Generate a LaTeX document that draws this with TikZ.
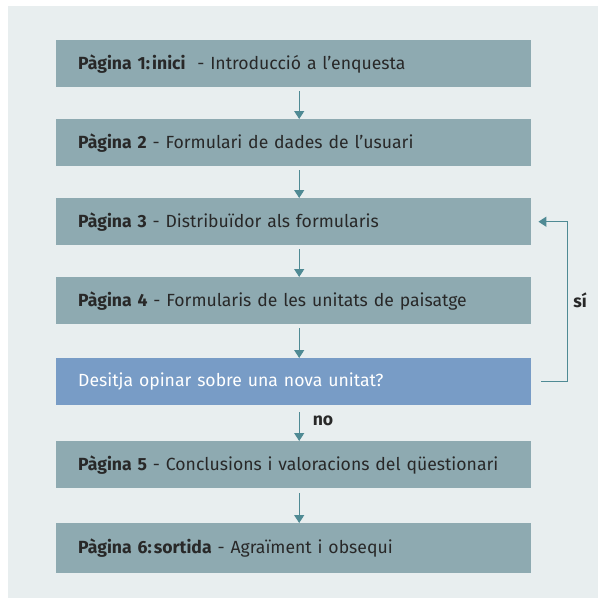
\documentclass[tikz,border=0pt]{standalone}
\usepackage{fontspec}
\setmainfont{Fira Sans}
\usetikzlibrary{arrows.meta}
\definecolor{panelbg}{RGB}{232,238,239}
\definecolor{pagegrey}{RGB}{142,170,177}
\definecolor{askblue}{RGB}{120,156,198}
\definecolor{flowteal}{RGB}{79,138,148}
\definecolor{textdark}{RGB}{40,40,40}
\begin{document}
\begin{tikzpicture}[x=1pt,y=-1pt,
    page/.style={fill=pagegrey,text=textdark,minimum height=47pt,
      text width=431pt,inner xsep=22pt,inner ysep=0pt,align=left,
      anchor=north west,font=\fontsize{17.6}{20}\selectfont},
    ask/.style={page,fill=askblue,text=white},
    flow/.style={draw=flowteal,line width=1.3pt,
      -{Triangle[width=10pt,length=8pt]}},
    answer/.style={text=textdark,font=\fontsize{17.6}{20}\selectfont\bfseries}]
    %% background panel
    \useasboundingbox (0,0) rectangle (598,598);
    \fill[panelbg] (8,6) rectangle (598,598);
    %% pages
    \node[page] (p1) at (56,40) {\textbf{Pàgina 1:\hspace{0.12em}inici}\ \ - Introducció a l’enquesta};
    \node[page] (p2) at (56,119) {\textbf{Pàgina 2} - Formulari de dades de l’usuari};
    \node[page] (p3) at (56,198) {\textbf{Pàgina 3} - Distribuïdor als formularis};
    \node[page] (p4) at (56,277) {\textbf{Pàgina 4} - Formularis de les unitats de paisatge};
    \node[ask] (q) at (56,358) {Desitja opinar sobre una nova unitat?};
    \node[page] (p5) at (56,441) {\textbf{Pàgina 5} - Conclusions i valoracions del qüestionari};
    \node[page,minimum height=50pt] (p6) at (56,523) {\textbf{Pàgina 6:\hspace{0.12em}sortida} - Agraïment i obsequi};
    %% arrows down
    \draw[flow] ([xshift=5.5pt,yshift=-4pt]p1.south) -- ([xshift=5.5pt]p2.north);
    \draw[flow] ([xshift=5.5pt,yshift=-4pt]p2.south) -- ([xshift=5.5pt]p3.north);
    \draw[flow] ([xshift=5.5pt,yshift=-4pt]p3.south) -- ([xshift=5.5pt]p4.north);
    \draw[flow] ([xshift=5.5pt,yshift=-4pt]p4.south) -- ([xshift=5.5pt]q.north);
    \draw[flow] ([xshift=5.5pt,yshift=-7pt]q.south) -- ([xshift=5.5pt]p5.north);
    \draw[flow] ([xshift=5.5pt,yshift=-5pt]p5.south) -- ([xshift=5.5pt]p6.north);
    %% loop back
    \draw[flow] ([xshift=10pt]q.east) -- ++(26,0) |- ([xshift=7pt]p3.east);
    \node[answer] (yes) at (580,300) {sí};
    \node[answer] (no) at (323,421) {no};
\end{tikzpicture}
\end{document}
